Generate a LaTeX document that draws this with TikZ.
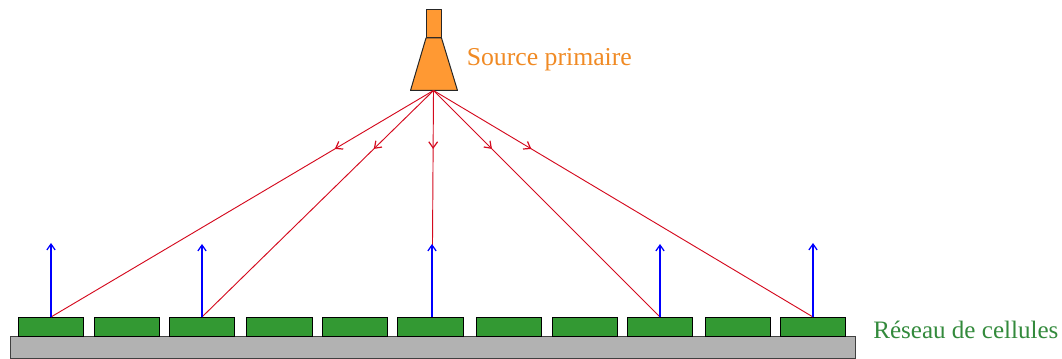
\documentclass[tikz,border=0pt]{standalone}
\usepackage{fontspec}
\setmainfont{Liberation Serif}
\usetikzlibrary{decorations.markings,arrows.meta}
\definecolor{cellgreen}{HTML}{339933}
\definecolor{srcorange}{HTML}{FF9933}
\definecolor{txtorange}{HTML}{F08A24}
\definecolor{txtgreen}{HTML}{338A3C}
\definecolor{basegray}{HTML}{B2B2B2}
\definecolor{rayred}{HTML}{D40A1E}
\tikzset{
  x=0.75pt,y=-0.75pt,
  cellbox/.style={draw=black,fill=cellgreen,line width=0.75pt},
  basebox/.style={draw=black!75,fill=basegray,line width=0.75pt},
  srcshape/.style={draw=black!85,fill=srcorange,line width=0.75pt,line join=round},
  ray/.style={draw=rayred,line width=0.7pt},
  midtip/.style={postaction={decorate},decoration={markings,mark=at position #1 with {\arrow[rayred,line width=0.9pt]{Straight Barb[length=4.6pt,width=6.6pt]}}}},
  beam/.style={draw=blue,line width=0.95pt,-{Straight Barb[length=4.4pt,width=6.2pt]}},
  lab/.style={inner sep=0pt,anchor=base west}
}
\begin{document}
\begin{tikzpicture}
\useasboundingbox (0,0) rectangle (1062,359);
\path[basebox] (10,336) rectangle (855,358.5);
\path[cellbox] (18,317) rectangle (83.5,336);
\path[cellbox] (94,317) rectangle (159,336);
\path[cellbox] (169.5,317) rectangle (234.5,336);
\path[cellbox] (246.5,317) rectangle (312,336);
\path[cellbox] (322,317) rectangle (387.5,336);
\path[cellbox] (397.5,317) rectangle (463,336);
\path[cellbox] (476.5,317) rectangle (541.5,336);
\path[cellbox] (552,317) rectangle (617,336);
\path[cellbox] (627.5,317) rectangle (692.5,336);
\path[cellbox] (705,317) rectangle (770,336);
\path[cellbox] (780.5,317) rectangle (845.5,336);
\path[srcshape] (426,9.5) rectangle (441.5,38);
\path[srcshape] (426,38) -- (441.5,38) -- (457.5,90.5) -- (410.5,90.5) -- cycle;
\coordinate (f) at (433.5,90.5);
\coordinate (c1) at (51,317);
\coordinate (c2) at (202,317);
\coordinate (c3) at (432,317);
\coordinate (c4) at (660,317);
\coordinate (c5) at (813,317);
\coordinate (t1) at (51,243);
\coordinate (t2) at (202,244);
\coordinate (t3) at (432,244);
\coordinate (t4) at (660,244);
\coordinate (t5) at (813,243);
\draw[ray,midtip=0.258] (f) -- (c1);
\draw[ray,midtip=0.258] (f) -- (c2);
\draw[ray,midtip=0.258] (f) -- (c3);
\draw[ray,midtip=0.258] (f) -- (c4);
\draw[ray,midtip=0.258] (f) -- (c5);
\draw[beam] (c1) -- (t1);
\draw[beam] (c2) -- (t2);
\draw[beam] (c3) -- (t3);
\draw[beam] (c4) -- (t4);
\draw[beam] (c5) -- (t5);
\node[lab,text=txtorange,font=\fontsize{19.3pt}{21pt}\selectfont] (src) at (466.5,66) {Source primaire};
\node[lab,text=txtgreen,font=\fontsize{18.8pt}{21pt}\selectfont] (net) at (873,338) {Réseau de cellules};
\end{tikzpicture}
\end{document}
